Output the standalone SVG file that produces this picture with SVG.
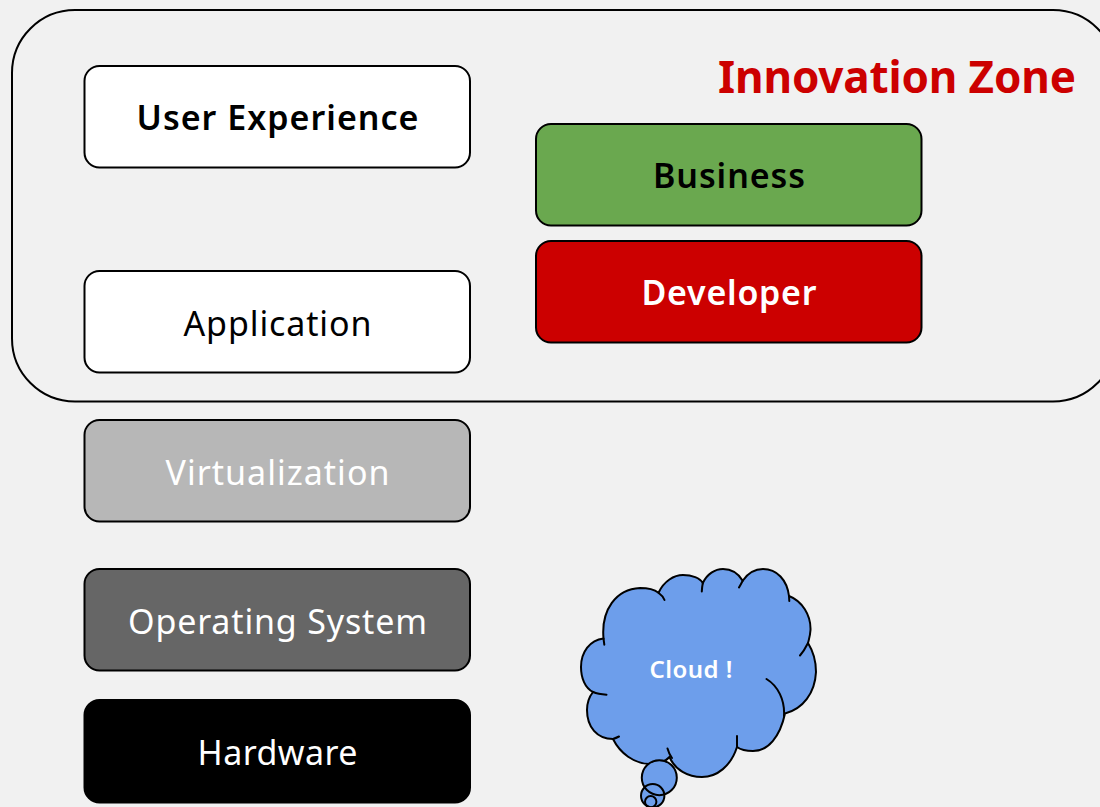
<svg xmlns="http://www.w3.org/2000/svg" width="1100" height="807" viewBox="0 0 1100 807">
<style>
text{font-family:"Noto Sans","Liberation Sans",sans-serif;text-anchor:middle;font-size:34px}
.b{font-weight:600}
.h{font-weight:700;font-size:44px}
.box{stroke:#000;stroke-width:2}
.ln{fill:none;stroke:#000;stroke-width:2;stroke-linecap:round}
</style>
<rect width="1100" height="807" fill="#f1f1f1"/>
<g id="zone"><rect x="12" y="10" width="1104" height="391.500" rx="63" ry="63" fill="none" stroke="#000" stroke-width="2"/>
<text class="h" x="897" y="93" fill="#cc0000" textLength="358">Innovation Zone</text></g>
<g id="user-experience"><rect class="box" x="84.500" y="66" width="385.500" height="101.500" rx="15" fill="#fff"/><text class="b" x="277.500" y="130" textLength="282">User Experience</text></g>
<g id="application"><rect class="box" x="84.500" y="271" width="385.500" height="101.500" rx="15" fill="#fff"/><text x="277.500" y="336" textLength="188">Application</text></g>
<g id="business"><rect class="box" x="536" y="124" width="385.500" height="101.500" rx="15" fill="#6aa84f"/><text class="b" x="729" y="188" textLength="152">Business</text></g>
<g id="developer"><rect class="box" x="536" y="241" width="385.500" height="101.500" rx="15" fill="#cc0000"/><text class="b" x="729" y="305" fill="#fff" textLength="175">Developer</text></g>
<g id="virtualization"><rect class="box" x="84.500" y="420" width="385.500" height="101.500" rx="15" fill="#b7b7b7"/><text x="277.500" y="485" fill="#fff" textLength="224">Virtualization</text></g>
<g id="operating-system"><rect class="box" x="84.500" y="569" width="385.500" height="101.500" rx="15" fill="#666"/><text x="277.500" y="634" fill="#fff" textLength="299">Operating System</text></g>
<g id="hardware"><rect class="box" x="84.500" y="700" width="385.500" height="102.500" rx="15" fill="#000"/><text x="277.500" y="765" fill="#fff" textLength="160">Hardware</text></g>
<g id="cloud">
<path fill="#6d9eeb" stroke="#000" stroke-width="2" d="M603.500 638.500C601 610 616 589 640 588C650 588 655 590 658.500 592.700C664 581 674 575 683 575C692 575 700 578 702.800 583C707 574 715 569 723 569C731 569 738 573 742.700 580.700C748 573 755 569 763 569C777 569 787 580 789 596C802 601 811 615 810.500 630C810 637 809 639 808 643C813 651 816 660 816 672C815 693 803 709 785 713.500C780 737 768 751 753 751C746 751 741 750 737 747C731 766 717 777 702 777C688 777 675 770 669.500 757C665 762 658 764 650 764C634 764 620 753 613 739C597 739 587 727 587 710C587 703 589 697 593 692C585 688 581 678 581 667C581 652 590 640 603.500 638.500Z"/>
<path class="ln" d="M658.500 592.700Q663 596 664.500 600M702.800 583Q702 587 701.800 591.500M742.700 580.700Q741 584 739 587.500M789 596L789.300 601M808 643Q804 651 800 655.500M766.500 679C778 686 785 700 784 716M737 736Q737 741 737 747M667.500 748.500Q669 754 672 758M619 736.500Q616 738 613 739M593 692Q598 694 606.500 694.700M603.500 638.500L604.300 644.700"/>
<circle cx="659.300" cy="777.700" r="17.500" fill="#6d9eeb"/>
<circle cx="652.700" cy="795.700" r="11.700" fill="#6d9eeb"/>
<circle cx="650.700" cy="801.700" r="5.700" fill="#6d9eeb"/>
<circle class="ln" cx="659.300" cy="777.700" r="17.500"/>
<circle class="ln" cx="652.700" cy="795.700" r="11.700"/>
<circle class="ln" cx="650.700" cy="801.700" r="5.700"/>
<text class="b" x="691" y="678" fill="#fff" style="font-size:24px" textLength="83">Cloud !</text>
</g>
</svg>
